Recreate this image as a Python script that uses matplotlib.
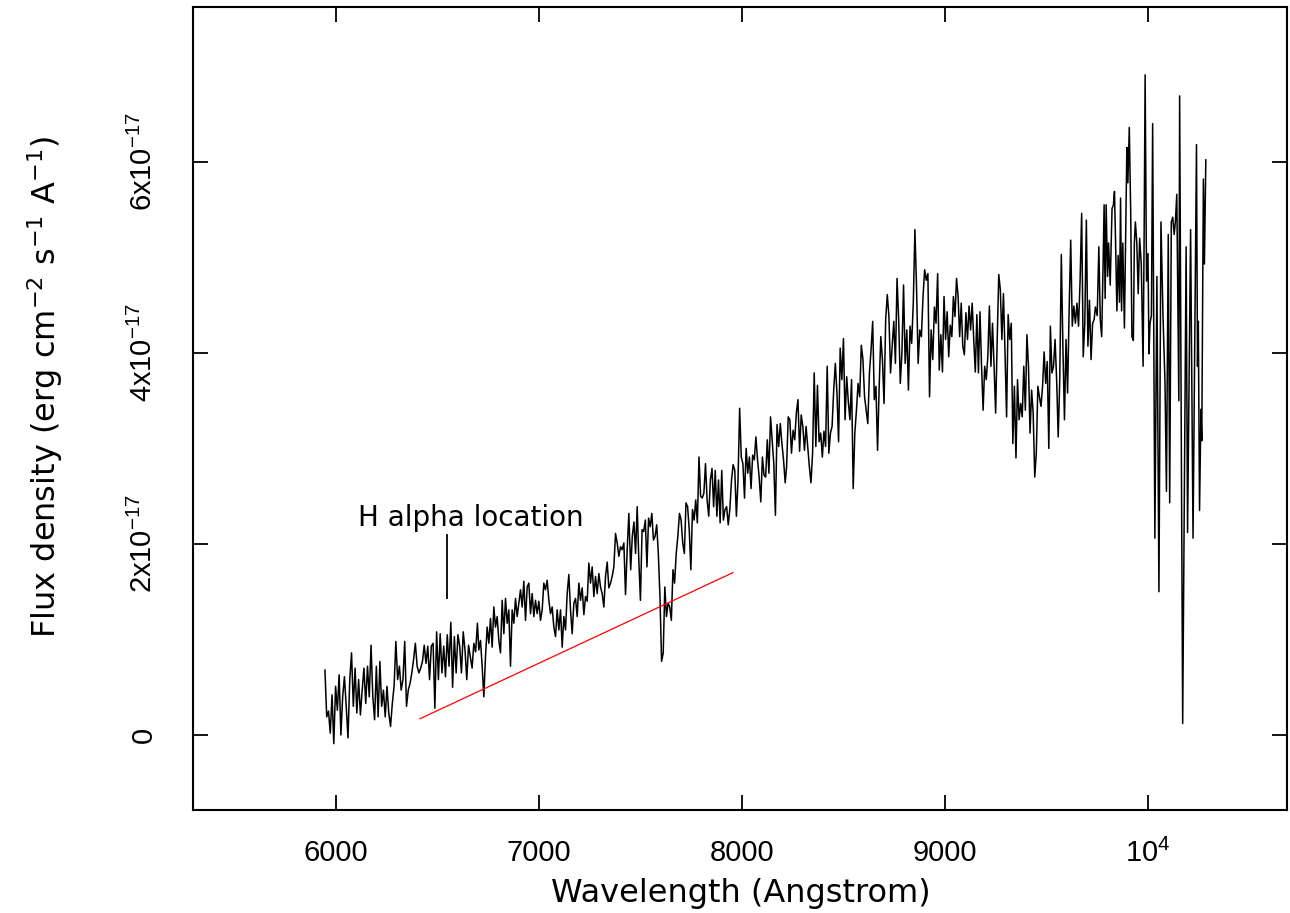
import numpy as np
import matplotlib
matplotlib.use('Agg')
import matplotlib.pyplot as plt

# spectrum, flux in units of 1e-17 erg/cm2/s/A
# five evenly sampled chunks (wavelength range given in wave_edges) + the noisy red end
flux_a = [0.68, 0.19, 0.25, 0.02, 0.42, -0.09, 0.51, 0.26, 0.63, 0.00, 0.40, 0.61, 0.30, -0.03, 0.58,
          0.86, 0.30, 0.70, 0.23, 0.58, 0.21, 0.47, 0.70, 0.33, 0.72, 0.40, 0.94, 0.40, 0.16, 0.72,
          0.19, 0.77, 0.30, 0.47, 0.19, 0.51, 0.23, 0.09, 0.33, 0.51, 0.98, 0.58, 0.72, 0.47, 0.58,
          0.98, 0.30, 0.47, 0.54, 0.65, 0.79, 0.96, 0.72, 0.65, 0.70, 0.77, 0.94, 0.75, 0.93, 0.58,
          0.93, 0.96, 0.28, 1.08, 0.58, 1.06, 0.65, 0.93, 0.61, 1.05, 0.72, 1.18, 0.50, 1.03, 0.65,
          1.05, 0.93, 0.65, 1.08, 0.89, 0.58, 0.94, 0.82, 0.70, 0.96, 0.87, 1.17]
flux_b = [0.89, 0.99, 0.72, 0.40, 0.82, 1.13, 0.96, 1.22, 0.92, 1.34, 1.13, 1.24, 0.99, 0.86, 1.41,
          1.06, 1.43, 1.17, 1.31, 0.72, 1.31, 1.17, 1.43, 1.24, 1.38, 1.52, 1.34, 1.61, 1.20, 1.55,
          1.59, 1.27, 1.48, 1.24, 1.41, 1.27, 1.40, 1.20, 1.31, 1.59, 1.52, 1.62, 1.41, 1.27, 1.34,
          1.13, 1.03, 1.31, 1.10, 1.31, 0.92, 1.24, 1.10, 1.48, 1.68, 1.31, 1.06, 1.38, 1.43, 1.24,
          1.59, 1.41, 1.54, 1.26, 1.45, 1.40, 1.80, 1.59, 1.76, 1.45, 1.66, 1.48, 1.69, 1.55, 1.48,
          1.34, 1.66, 1.81, 1.54, 1.59, 1.66, 1.76, 2.11, 2.01, 1.87, 1.97, 1.94, 2.01, 1.47, 1.94,
          2.32]
flux_c = [1.73, 2.08, 2.23, 1.90, 2.39, 1.83, 1.41, 2.15, 2.13, 2.25, 1.76, 2.27, 2.18, 2.32, 2.04,
          2.08, 2.20, 1.90, 1.45, 0.77, 0.86, 1.55, 1.24, 1.38, 1.34, 1.20, 1.73, 1.59, 1.90, 2.08,
          2.32, 2.25, 2.01, 1.90, 2.43, 2.39, 2.15, 1.73, 2.36, 2.25, 2.46, 2.22, 2.91, 2.50, 2.48,
          2.53, 2.84, 2.46, 2.29, 2.67, 2.79, 2.39, 2.77, 2.29, 2.67, 2.22, 2.77, 2.25, 2.36, 2.39,
          2.20, 2.37, 2.67, 2.83, 2.77, 2.29, 2.67, 3.42, 2.91, 2.84, 2.48, 3.00, 2.74, 2.91, 2.58,
          2.93, 2.88, 3.12, 2.88, 2.70, 2.44, 2.91, 2.72, 2.70, 3.09, 2.74, 3.33, 3.09, 2.84, 2.30,
          3.25, 3.02, 3.26, 3.05, 2.88, 2.64]
flux_d = [2.81, 3.33, 3.30, 2.95, 3.19, 3.09, 3.37, 3.51, 2.97, 3.35, 3.23, 2.98, 3.23, 3.02, 2.81,
          2.64, 2.95, 3.79, 3.02, 3.66, 3.07, 3.16, 2.91, 3.18, 3.02, 3.86, 2.95, 3.16, 3.23, 3.61,
          3.89, 3.58, 3.07, 4.05, 3.72, 4.15, 3.30, 3.75, 3.49, 3.30, 3.72, 2.58, 3.16, 3.40, 3.68,
          3.54, 4.08, 3.93, 3.54, 3.40, 3.26, 3.79, 4.03, 4.33, 3.51, 3.65, 2.98, 3.65, 4.17, 3.93,
          3.47, 4.35, 4.61, 4.38, 3.79, 4.07, 4.33, 3.89, 4.78, 4.35, 3.68, 4.00, 4.71, 3.89, 4.24,
          3.61, 4.28, 4.10, 4.52, 5.29, 4.69, 3.89, 4.24, 4.17, 4.59, 4.87, 4.76, 4.83, 3.54, 4.24,
          3.93, 4.48, 4.31, 4.83, 3.82]
flux_e = [4.19, 3.80, 4.59, 4.14, 4.43, 3.96, 4.29, 4.17, 4.59, 4.38, 4.78, 4.59, 4.17, 4.52, 4.07,
          3.98, 4.42, 4.14, 4.49, 4.24, 4.52, 4.14, 3.80, 4.40, 3.79, 4.43, 3.86, 3.40, 3.86, 3.72,
          3.96, 4.49, 3.86, 4.31, 3.86, 3.37, 4.14, 4.82, 4.66, 4.14, 4.62, 4.00, 3.33, 4.40, 4.14,
          4.31, 3.05, 3.65, 2.90, 3.72, 3.30, 3.47, 3.33, 3.86, 3.40, 4.19, 3.86, 3.16, 3.61, 3.37,
          2.70, 2.95, 3.65, 3.54, 3.44, 3.65, 4.01, 3.68, 3.91, 3.00, 4.28, 3.79, 3.86, 4.14, 3.72,
          3.12, 3.72, 5.03, 4.07, 3.30, 4.14, 3.58, 4.45, 5.18, 4.28, 4.49, 4.31, 4.52, 4.28, 4.76,
          5.46, 3.96, 4.31, 5.39, 4.07, 4.55, 3.93, 4.31, 4.35]
wave_edges = [(5946, 6697), (6704, 7443), (7452, 8213), (8220, 8972), (8980, 9735)]

wave_f = [9741, 9750, 9758, 9765, 9772, 9779, 9784, 9789, 9794, 9801, 9806, 9814, 9823, 9830, 9835,
          9840, 9847, 9853, 9860, 9865, 9870, 9876, 9884, 9891, 9896, 9901, 9908, 9915, 9921, 9928,
          9933, 9938, 9945, 9952, 9959, 9967, 9976, 9981, 9986, 9993, 10000, 10005, 10010, 10017, 10023,
          10034, 10044, 10054, 10064, 10074, 10084, 10091, 10100, 10107, 10115, 10122, 10129, 10135, 10142, 10152,
          10156, 10171, 10188, 10195, 10210, 10222, 10239, 10244, 10248, 10254, 10261, 10265, 10273, 10278, 10285]
flux_f = [4.48, 4.39, 5.11, 4.35, 4.17, 4.93, 5.55, 4.57, 5.55, 4.80, 5.15, 4.71, 5.51, 5.55, 5.69,
          5.20, 4.44, 5.02, 4.53, 5.62, 4.44, 5.15, 4.26, 5.37, 6.15, 5.78, 6.36, 5.46, 4.17, 4.13,
          5.15, 5.37, 5.15, 4.62, 5.20, 4.93, 3.86, 5.20, 6.91, 4.75, 5.04, 3.99, 4.31, 4.39, 6.40,
          2.06, 4.80, 1.50, 5.37, 4.39, 3.68, 2.55, 5.24, 2.43, 5.37, 5.42, 5.24, 5.37, 5.66, 3.50,
          6.69, 0.12, 5.11, 2.12, 5.29, 2.06, 6.18, 3.86, 4.33, 2.35, 3.41, 3.08, 5.82, 4.93, 6.02]

# red continuum line and the H alpha marker
cont_wave = [6414, 7956]
cont_flux = [0.17, 1.70]
halpha_wave = 6545
halpha_flux = [1.43, 2.09]

xticks = [6000, 7000, 8000, 9000, 10000]
xticklabels = ['6000', '7000', '8000', '9000', '10$^{4}$']
yticks = [0, 2, 4, 6]
yticklabels = ['0', '2x10$^{-17}$', '4x10$^{-17}$', '6x10$^{-17}$']

plt.rcParams['font.family'] = ['Liberation Sans', 'DejaVu Sans']
plt.rcParams['mathtext.default'] = 'regular'

chunks = [flux_a, flux_b, flux_c, flux_d, flux_e]
wave = np.concatenate([np.linspace(lo, hi, len(f)) for (lo, hi), f in zip(wave_edges, chunks)] + [wave_f])
flux = np.concatenate(chunks + [flux_f])

fig = plt.figure(figsize=(12.9, 9.13), dpi=100)
ax = fig.add_axes([0.1496, 0.1128, 0.8481, 0.8795])

ax.plot(wave, flux, color='black', lw=1.1)
ax.plot(cont_wave, cont_flux, color='red', lw=0.9)
ax.plot([halpha_wave, halpha_wave], halpha_flux, color='black', lw=1.3)
ax.text(6108, 2.19, 'H alpha location', fontsize=20, ha='left', va='baseline',
        family=['DejaVu Sans'])

ax.set_xlim(5296, 10685)
ax.set_ylim(-0.785, 7.62)

ax.set_xticks(xticks)
ax.set_xticklabels(xticklabels)
ax.set_yticks(yticks)
ax.set_yticklabels(yticklabels, rotation=90, va='center')
ax.minorticks_off()
ax.tick_params(direction='in', top=True, right=True, length=11, width=1.3, labelsize=21)
ax.tick_params(axis='x', pad=21)
ax.tick_params(axis='y', pad=25)
for s in ax.spines.values():
    s.set_linewidth(1.5)

fig.text(45 / 1290, 1 - 387 / 913, 'Flux density (erg cm$^{-2}$ s$^{-1}$ A$^{-1}$)',
         rotation=90, ha='center', va='center', fontsize=23, family=['DejaVu Sans'])
fig.text(741 / 1290, 1 - 893 / 913, 'Wavelength (Angstrom)', ha='center', va='center',
         fontsize=23, family=['DejaVu Sans'])

fig.savefig('out.png', dpi=100)
